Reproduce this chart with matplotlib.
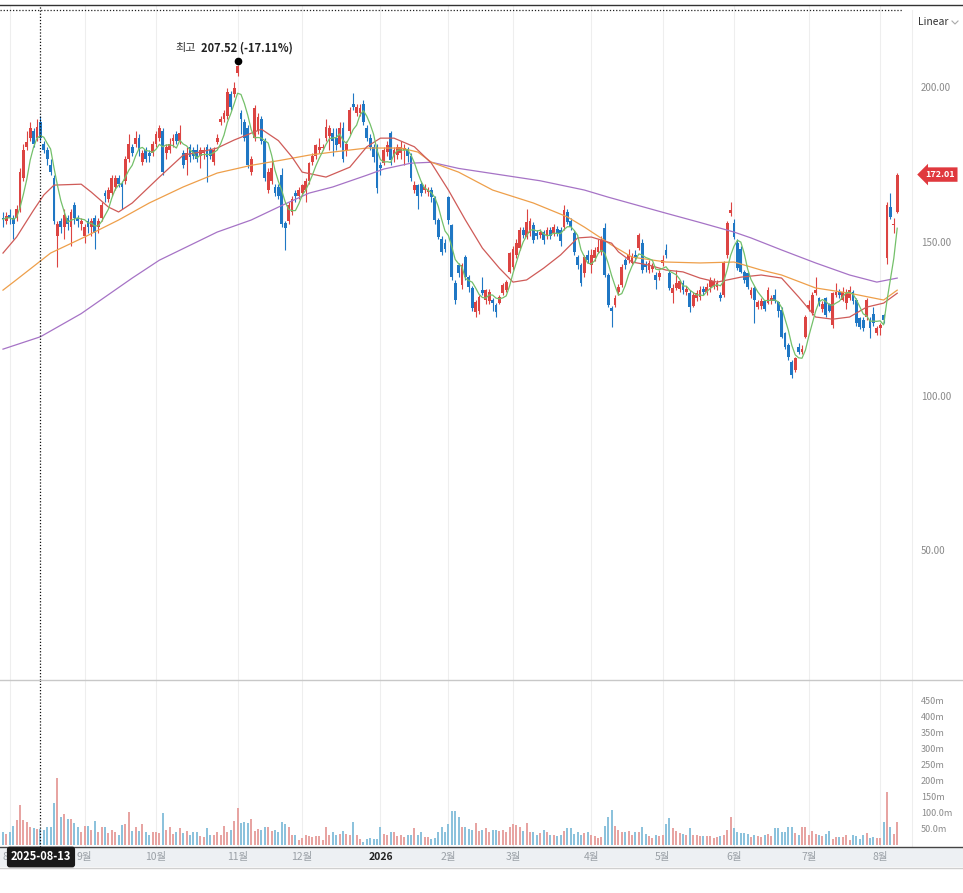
import numpy as np
import pandas as pd
import matplotlib
matplotlib.use("Agg")
import matplotlib.pyplot as plt
import matplotlib.transforms as mtransforms
from matplotlib.patches import Rectangle
from matplotlib.lines import Line2D

plt.rcParams['font.family'] = ['Noto Sans CJK KR', 'DejaVu Sans']

# daily candles (index 0 = first visible session)
opens = [
    158, 157, 159, 158, 158, 161, 171, 181, 184, 186,
    184, 189, 182, 180, 175, 171, 152, 157, 155, 158,
    155, 162, 158, 156, 152, 157, 155, 158, 155, 158,
    166, 164, 166, 168, 171, 169, 170, 177, 181, 182,
    184, 176, 180, 179, 179, 182, 184, 186, 179, 180,
    183, 185, 183, 179, 176.7, 181, 180, 180, 178, 179,
    181, 180, 176, 182.5, 189, 190, 191, 198, 198, 205,
    192, 189, 187, 173, 184, 186, 190, 183, 167, 170,
    168, 168, 172, 156.3, 157, 160, 166, 165, 166, 167,
    170, 176, 178, 180, 180.5, 184, 184.5, 185.5, 184, 182,
    187, 180, 186, 195, 192, 192, 195, 187, 184, 181,
    181, 175, 175.7, 179.3, 185.4, 178, 178.5, 179, 180, 180,
    178, 167, 168.6, 169, 167, 166.5, 167, 164.4, 157.3, 151,
    150, 164.7, 155.7, 137, 142.7, 136.2, 145.3, 138.8, 135.3, 127.5,
    128, 134.6, 131.4, 131, 131.4, 129.7, 130.4, 133.6, 134.6, 140.5,
    142, 146, 148.2, 154, 151.8, 153, 155.7, 153, 152.4, 153.4,
    152, 154, 153, 154.5, 154, 155, 160, 157, 153, 145.3,
    142.7, 140, 146, 142.7, 145, 147, 147, 154.7, 139.5, 128.8,
    129.8, 134, 136.2, 144.3, 144.3, 143.5, 146, 148.2, 150, 143,
    141, 141.5, 139.5, 139, 143.4, 147.6, 140, 133.6, 135.3, 135,
    137, 134, 133.6, 129.5, 132, 132.5, 135, 134, 135.6, 136,
    135.5, 133, 133, 146, 159.5, 156.3, 150, 148, 140.5, 140,
    133, 135.3, 129, 129.5, 131, 130.4, 131, 133, 130.7, 128.2,
    120.7, 116.8, 111.3, 108.7, 116.2, 114.6, 119.4, 128.8, 127.2, 133.6,
    132, 128.5, 132, 130, 123.3, 133, 134, 131.5, 130.5, 132,
    134, 131.4, 125.6, 125, 126, 125, 127, 120.7, 122.3, 126.5,
    145, 161.5, 155.7, 160,
]
highs = [
    160, 160, 161, 159, 162, 174, 182, 186, 189, 187,
    190, 191, 183, 181, 177, 172, 157, 158, 161, 159,
    161, 163, 159, 158, 156, 158, 158, 159, 158, 163,
    167, 168, 172, 172, 172, 170, 178, 185, 182, 186,
    185, 180, 181, 180, 183, 186, 188, 187, 182, 184,
    185, 186, 188, 180, 181, 182, 181, 182, 181, 181,
    182, 181, 181, 185, 191, 193, 200, 199, 202, 207.52,
    193, 190, 188, 178, 194.5, 192, 191, 184, 174, 177,
    169, 169, 174, 157, 163, 165, 167, 168, 169, 171,
    176, 179, 182, 184, 182, 190, 188, 187, 187, 189,
    189, 183, 194, 198.4, 195, 195, 196, 188, 185, 182,
    182, 176, 181, 183, 186, 181, 182, 183, 182, 181,
    179, 170, 169, 170, 169, 168, 168, 165, 158, 152,
    151, 165, 156, 138, 143.5, 143.5, 146, 139.5, 136, 131.5,
    133, 139, 135, 135, 132, 130.5, 133, 137, 138, 147,
    149, 151, 155, 155, 161, 158, 156.5, 154, 154.5, 154,
    155, 155, 156, 155.5, 155, 162, 161, 158, 154, 146,
    143.5, 146, 147.5, 148, 148.5, 151, 152, 156.3, 140, 129.5,
    133, 136.5, 143, 145, 148, 146.5, 147.5, 153, 151, 144,
    144.5, 143.5, 140.5, 141, 146, 149.5, 141, 136.5, 141, 138,
    138, 136, 134.5, 134, 134.5, 136, 136, 137, 139, 138.5,
    138, 134, 144, 157, 163, 157.5, 151, 149, 141, 140.5,
    135.5, 136, 131.5, 132, 131.5, 135.5, 133, 135, 131, 129,
    121, 117.5, 112, 113, 117.5, 117, 126.5, 131.5, 134, 138.8,
    132.5, 131, 132.5, 130.5, 134, 137, 135, 135.5, 135, 136,
    134.5, 132, 126, 126, 132, 126, 129, 123, 124, 127,
    163, 166, 158, 172.5,
]
lows = [
    155, 156, 156, 151, 157, 160, 170, 180, 183, 181,
    183, 183, 179, 175, 172, 156, 142, 153, 151, 154,
    149, 156, 155, 154, 150, 153, 152, 148, 153, 157,
    163, 163, 165, 167, 168, 161, 169, 176, 178, 181,
    178, 175, 176, 176, 178, 181, 183, 172, 177, 179,
    181, 182, 182, 174, 172, 176, 177, 176, 174, 177,
    169.6, 177, 175, 182, 188, 189, 190, 193, 197, 204,
    185, 183, 174, 172, 183, 185, 182, 170, 166, 169,
    165, 164, 155, 147.6, 156, 159, 163, 164, 165, 163,
    169, 175, 177, 179, 180, 183, 180, 178, 180, 181,
    176, 178, 185, 193, 191, 191, 188, 183, 180, 176,
    166, 172, 175, 178, 175, 176, 177, 177, 175, 176,
    170, 166, 161, 165, 166, 165, 163, 156, 151, 146,
    147, 156, 138, 130, 139, 135, 138, 134, 128, 126,
    127, 133, 130, 130, 128, 126, 130, 133, 134, 140,
    141, 145, 147.5, 151.5, 151, 152, 150, 151, 151.5, 149.5,
    151, 151, 152, 152, 149, 154, 156, 154, 146, 141.5,
    136, 139, 143.5, 140, 144, 146.5, 146, 139, 129, 122.7,
    129, 133, 135.5, 141.5, 143.5, 143, 144, 147.5, 140, 140.5,
    140, 140.5, 135, 138, 142.5, 145, 134.5, 130.5, 134.5, 134,
    133.5, 133, 127.5, 129, 131, 131.5, 133, 133, 134, 135,
    134.5, 131, 132.5, 145, 158.5, 151, 141, 140, 137, 135,
    132, 124, 128.5, 128.5, 128, 130, 130, 130.5, 126, 119,
    115.5, 112, 106, 108, 114, 114, 119, 128, 126.5, 133,
    129.5, 127.5, 126, 127.5, 122.5, 132.5, 132, 131, 128.5, 131.5,
    130, 123, 122, 121.5, 125, 119, 123, 120, 120, 124,
    143, 157.5, 153, 159.5,
]
closes = [
    157.5, 158.5, 158, 156, 161, 173, 180, 182.5, 187, 182,
    187.5, 184, 180, 177, 173, 157, 156, 155, 159, 156,
    160, 158, 157, 157, 155, 155, 157, 153, 157, 162,
    165, 167, 171, 171, 169, 168, 177, 182, 179, 184,
    180, 179, 177, 178, 182, 185, 187, 173, 181, 182,
    184, 183, 185.5, 175, 179, 177.6, 178, 177, 180, 180,
    177.6, 178, 180, 184, 190, 192, 198.7, 194, 200, 207,
    190, 184, 175, 177, 193.5, 190.6, 183, 171, 173, 174,
    166, 165, 156, 154.7, 162, 164, 165, 167, 168.6, 170,
    175.7, 178, 181.6, 181, 181, 187.4, 187, 183, 181.5, 187,
    177, 182, 193, 194, 194, 193.5, 189, 184, 181, 177.7,
    167.6, 174, 180, 181.5, 176.7, 180, 181, 181, 180.5, 178,
    171, 168.6, 165, 166, 168, 167, 164.7, 157.3, 151.8, 147,
    148, 157.3, 139, 131.4, 140, 142.7, 138.8, 135.6, 128.8, 130.7,
    132.4, 133.6, 134.6, 134, 130.4, 127.5, 132.4, 136.2, 137.2, 146.6,
    148, 150, 154, 152.4, 156.6, 157, 150.8, 152, 153.4, 150.8,
    154, 152, 155, 153, 150.5, 160.5, 156.6, 155, 147, 142.7,
    137, 145.3, 144.5, 146, 147.6, 148.5, 150.8, 139.5, 129.8, 128,
    132, 135.6, 142, 142.7, 146, 145.5, 145, 152.4, 141, 142,
    143.4, 142.5, 138, 140, 144.3, 146, 135.3, 135.3, 137, 137.5,
    134.6, 135, 129, 133, 133.6, 134.6, 134, 135.6, 137.9, 137.5,
    137, 132, 143.4, 156.3, 160.5, 151.8, 141.7, 140.5, 138, 135.5,
    134.5, 131.4, 130.7, 131, 128.5, 134.6, 132, 131, 128, 119.4,
    116.2, 113, 107.1, 112.6, 114.6, 115.5, 126, 129.8, 133, 134.6,
    130.4, 130, 126.5, 128, 133.6, 134, 133, 134, 134, 134.5,
    131, 124, 122.6, 122.5, 131.4, 122.3, 124, 122.3, 123.3, 124.9,
    162, 158.3, 156, 172.01,
]
# volume in millions
volumes = [
    40, 35, 42, 60, 78, 125, 78, 72, 58, 52,
    50, 50, 48, 55, 58, 130, 210, 88, 97, 82,
    82, 70, 55, 40, 60, 60, 48, 75, 42, 58,
    58, 38, 48, 42, 30, 64, 67, 103, 43, 57,
    43, 67, 40, 33, 40, 42, 38, 100, 48, 55,
    35, 40, 52, 37, 45, 33, 40, 40, 28, 25,
    53, 30, 30, 42, 32, 60, 40, 48, 75, 115,
    70, 73, 70, 82, 45, 50, 48, 57, 58, 45,
    48, 42, 72, 65, 55, 33, 30, 15, 23, 30,
    28, 25, 27, 27, 15, 55, 33, 40, 33, 35,
    45, 35, 30, 72, 33, 20, 10, 20, 23, 18,
    18, 55, 35, 30, 42, 42, 27, 30, 25, 30,
    30, 53, 33, 42, 25, 25, 18, 22, 40, 55,
    42, 65, 105, 105, 88, 57, 55,
    50, 48, 70, 45, 47, 53, 40, 48, 48, 43,
    48, 40, 55, 67, 63, 55, 45, 70, 42, 42,
    30, 38, 48, 40, 32, 32, 28, 30, 45, 52,
    52, 35, 40, 30, 38, 42, 32, 28, 22, 25,
    60, 88, 110, 60, 48, 42, 40, 45, 32, 40,
    40, 55, 35, 28, 22, 30, 27, 30, 67, 85,
    52, 45, 38, 35, 33, 52, 33, 30, 28, 28,
    28, 28, 22, 25, 28, 32, 48, 88, 53, 40,
    37, 37, 35, 25, 33, 28, 25, 32, 35, 28,
    52, 52, 40, 42, 57, 57, 38, 30, 55, 55,
    32, 45, 35, 30, 28, 35, 45, 20, 25, 25,
    25, 30, 17, 32, 27, 18, 32, 38, 22, 25,
    22, 22, 72, 165, 58, 35, 73,
]

# moving averages (session index, value)
ma20_idx = [0, 4, 9, 12, 15, 23, 26, 31, 34, 38, 42, 46, 53, 58, 63, 68, 73, 76, 81, 85,
            88, 95, 102, 107, 111, 115, 121, 126, 131, 136, 141, 146, 150, 154, 159, 164,
            169, 173, 179, 181, 185, 190, 195, 200, 205, 210, 217, 223, 229, 234, 239, 244,
            249, 254, 259, 263]
ma20_val = [146.6, 151.8, 160.5, 165.4, 168.6, 168.9, 166.3, 161.5, 159.9, 162.8, 167, 171.2,
            178.3, 179.3, 180.6, 183.2, 185.4, 186.7, 183, 177.7, 172.8, 171.2, 174.4, 181,
            183.8, 183.8, 181, 175.7, 167, 157.3, 148.2, 141.7, 137.2, 137.9, 141.7, 146,
            151.5, 151.8, 149.8, 147, 143.7, 142.7, 141.1, 140.5, 138.5, 137.2, 138.8, 139.5,
            138.5, 132.4, 125.9, 125.2, 125.9, 129.1, 130.4, 133.6]
ma60_idx = [0, 4, 14, 24, 34, 43, 53, 63, 73, 82, 90, 97, 107, 117, 122, 126, 134, 144, 156,
            166, 171, 179, 185, 195, 205, 215, 223, 229, 239, 249, 259, 263]
ma60_val = [134.6, 138, 146.6, 151.8, 157.3, 162.8, 168, 172.5, 175, 176.7, 178.3, 179.3,
            180.6, 180.6, 179.3, 176, 172.8, 167, 162.8, 158.3, 155, 149.2, 145.3, 143.7,
            143.4, 143.7, 141.1, 139.5, 135.3, 133.6, 131.4, 134.6]
ma120_idx = [0, 11, 23, 38, 46, 63, 73, 82, 90, 97, 107, 112, 120, 126, 134, 146, 158, 171,
             178, 195, 205, 215, 220, 229, 239, 249, 257, 263]
ma120_val = [115.5, 119.5, 127, 138.5, 144.3, 153.4, 157.3, 162, 166, 168, 171.8, 173.8,
             175.7, 176, 174, 172, 170, 167, 164.7, 159.5, 156.5, 153.4, 151.5, 147.6, 143.4,
             139.5, 137.2, 138.5]

month_pos = [2, 24, 45, 69, 88, 111, 131, 150, 173, 194, 215, 237, 258]
month_labels = ["8월", "9월", "10월", "11월", "12월", "2026", "2월", "3월", "4월", "5월", "6월", "7월", "8월"]

price_ticks = [200, 150, 100, 50]
vol_ticks = [50, 100, 150, 200, 250, 300, 350, 400, 450]
vol_labels = ["50.0m", "100.0m", "150m", "200m", "250m", "300m", "350m", "400m", "450m"]

cross_idx = 11
cross_date = "2025-08-13"
peak_idx = 69

RED, BLUE = "#dc4442", "#1f77c4"
VRED, VBLUE = "#e7a4a2", "#8cc2dc"

W, H = 963, 893
fig = plt.figure(figsize=(W / 100, H / 100), dpi=100)
fig.patch.set_facecolor("white")


def fy(py):
    return 1 - py / H


ax = fig.add_axes([0, fy(680), 912 / W, (680 - 5) / H])
vax = fig.add_axes([0, fy(847), 912 / W, (847 - 680) / H], sharex=ax)
for a in (ax, vax):
    for s in a.spines.values():
        s.set_visible(False)
    a.tick_params(left=False, right=False, labelleft=False, bottom=False, top=False)
    for p in month_pos:
        a.axvline(p, color="#eeeeee", lw=0.8, zorder=0)
ax.tick_params(labelbottom=False)

x = np.arange(len(closes))
o = np.array(opens)
c = np.array(closes)
up = c >= o
cols = np.where(up, RED, BLUE)

ax.set_xlim(-0.88, 267.35)
ax.set_ylim(8.4, 226.9)
vax.set_ylim(-6, 516)

# candles
ax.vlines(x, lows, highs, colors=cols, lw=0.8, zorder=2)
ax.bar(x, np.maximum(np.abs(c - o), 0.45), bottom=np.minimum(o, c), width=0.78,
       color=cols, linewidth=0, zorder=2)

# moving averages
ma5 = pd.Series(closes).rolling(5, min_periods=1).mean()
ax.plot(ma120_idx, ma120_val, color="#a673c6", lw=0.9, zorder=3)
ax.plot(ma60_idx, ma60_val, color="#ee9f4a", lw=0.9, zorder=3)
ax.plot(ma20_idx, ma20_val, color="#cf5b58", lw=0.9, zorder=3)
ax.plot(x, ma5, color="#74c06a", lw=0.9, zorder=3)

# volume
vax.bar(x, volumes, width=0.6, color=np.where(up, VRED, VBLUE), linewidth=0, zorder=2)
vax.set_xticks(month_pos)
vax.set_xticklabels(month_labels)
vax.tick_params(labelbottom=True, length=0, pad=3.5, labelsize=7.5, labelcolor="#9aa0a6")
for lbl in vax.get_xticklabels():
    if lbl.get_text() == "2026":
        lbl.set_fontweight("bold")
        lbl.set_color("#222222")

# crosshair
ax.axvline(cross_idx, color="#111111", ls=(0, (1, 1.5)), lw=0.9, zorder=4)
vax.axvline(cross_idx, color="#111111", ls=(0, (1, 1.5)), lw=0.9, zorder=4)

# right-hand scales
tp = mtransforms.blended_transform_factory(fig.transFigure, ax.transData)
tv = mtransforms.blended_transform_factory(fig.transFigure, vax.transData)
for v in price_ticks:
    ax.text(921 / W, v, f"{v:.2f}", transform=tp, ha="left", va="center",
            fontsize=7, color="#8a8a8a", clip_on=False)
for v, s in zip(vol_ticks, vol_labels):
    vax.text(921 / W, v, s, transform=tv, ha="left", va="center",
             fontsize=6.5, color="#8a8a8a", clip_on=False)

last = closes[-1]
ax.text(940 / W, last, f"{last:.2f}", transform=tp, ha="center", va="center",
        fontsize=6.5, color="white", fontweight="bold", clip_on=False, zorder=6,
        bbox=dict(boxstyle="larrow,pad=0.3", fc="#e0393e", ec="none"))

# high marker
peak = highs[peak_idx]
dot_tr = mtransforms.offset_copy(ax.transData, fig=fig, x=0, y=4, units="dots")
ax.plot(peak_idx, peak, "o", ms=4.5, color="black", transform=dot_tr, zorder=5, clip_on=False)
ax.annotate("최고", xy=(peak_idx, peak), xytext=(-42, 17), textcoords="offset pixels",
            ha="right", va="center", fontsize=8, color="#333333")
pct = (last - peak) / peak * 100
ax.annotate(f"{peak:.2f} ({pct:.2f}%)", xy=(peak_idx, peak), xytext=(-37, 17),
            textcoords="offset pixels", ha="left", va="center", fontsize=8,
            fontweight="bold", color="#222222")

# frame lines and bottom strip
fig.add_artist(Line2D([0, 1], [fy(5), fy(5)], transform=fig.transFigure, color="#333333", lw=1))
fig.add_artist(Line2D([0, 903 / W], [fy(10), fy(10)], transform=fig.transFigure,
                      color="#222222", lw=0.9, ls=(0, (1, 1.5))))
fig.add_artist(Line2D([912 / W, 912 / W], [fy(10), fy(847)], transform=fig.transFigure,
                      color="#eeeeee", lw=0.8))
fig.add_artist(Line2D([0, 1], [fy(680), fy(680)], transform=fig.transFigure, color="#c8c8c8", lw=1))
fig.add_artist(Rectangle((0, fy(867)), 1, 20 / H, transform=fig.transFigure,
                         fc="#edf0f3", ec="none", zorder=-1))
fig.add_artist(Line2D([0, 1], [fy(847), fy(847)], transform=fig.transFigure, color="#444444", lw=1))
fig.add_artist(Line2D([0, 1], [fy(868), fy(868)], transform=fig.transFigure, color="#cfcfcf", lw=1))

fig.text(918 / W, fy(22), "Linear", ha="left", va="center", fontsize=7.5, color="#333333")
fig.add_artist(Line2D([952 / W, 955 / W, 958 / W], [fy(21), fy(24), fy(21)],
                      transform=fig.transFigure, color="#aaaaaa", lw=0.8))

fig.text(41 / W, fy(857), cross_date, ha="center", va="center", fontsize=8,
         fontweight="bold", color="white", zorder=10,
         bbox=dict(boxstyle="round,pad=0.35,rounding_size=0.25", fc="#1a1a1a", ec="none"))

fig.savefig("out.png", dpi=100)
